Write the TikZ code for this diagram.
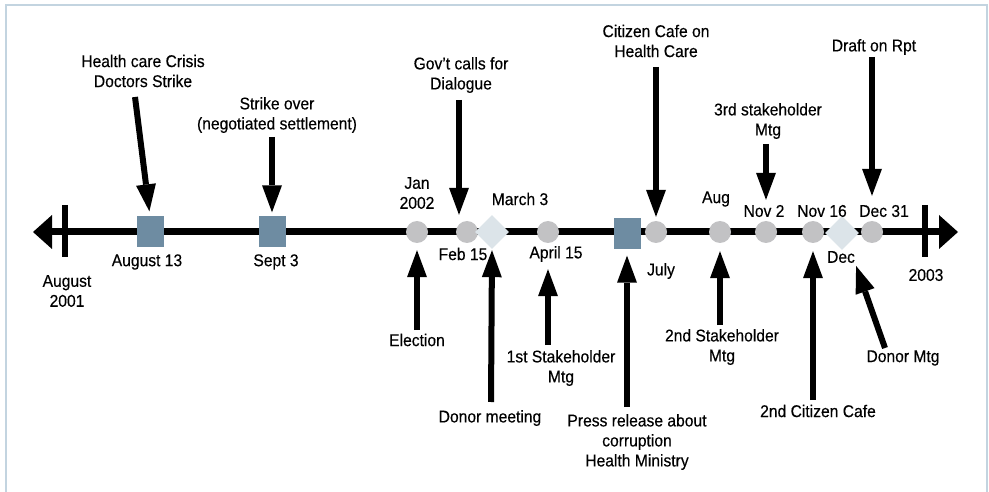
\documentclass[tikz,border=0pt]{standalone}
\usepackage{fontspec}
\setmainfont{Liberation Sans}[FakeStretch=0.92, FakeBold=0.3]
\usetikzlibrary{positioning, calc, arrows.meta, shapes.geometric}
\definecolor{evblue}{HTML}{6E8CA2}
\definecolor{mtggray}{HTML}{C2C2C4}
\definecolor{dmdgray}{HTML}{DCE4E9}
\definecolor{framecol}{HTML}{C3D4E0}

\begin{document}
\begin{tikzpicture}[x=1pt,y=-1pt,
    lbl/.style={font=\fontsize{17pt}{20pt}\selectfont, align=center, inner sep=0pt},
    evsq/.style={rectangle, fill=evblue, minimum width=27pt, minimum height=31pt, inner sep=0pt},
    mtg/.style={circle, fill=mtggray, minimum size=22pt, inner sep=0pt},
    dmd/.style={diamond, fill=dmdgray, minimum width=34pt, minimum height=34pt, inner sep=0pt},
    evarrow/.style={line width=6pt, -{Triangle[width=20pt,length=27pt,line width=0pt]}},
    yeartick/.style={line width=6pt}]
    \useasboundingbox (0,0) rectangle (989,492);
    \draw[framecol, line width=2.5pt] (6,492) -- (6,5) -- (987,5) -- (987,492);

    \coordinate (tlL) at (33,232);
    \coordinate (tlR) at (958,232);
    \draw[line width=7pt, {Triangle[width=34pt,length=19pt,line width=0pt]}-{Triangle[width=34pt,length=19pt,line width=0pt]}] (tlL) -- (tlR);
    \foreach \x in {65,925}
        \draw[yeartick] (\x,205) -- (\x,257);

    \node[evsq] (aug13) at (150,232) {};
    \node[evsq] (sept3) at (272,232) {};
    \node[evsq] (julysq) at (627,234) {};
    \foreach \n/\x in {jan/417, feb15/467, apr15/548, julyc/656, aug/720, nov2/766, nov16/813, dec31/872}
        \node[mtg] (\n) at (\x,232) {};
    \node[dmd] (mar3) at (492,232) {};
    \node[dmd] (dec) at (842,233) {};

    \node[lbl] (lblJan) at (417,193) {Jan\\2002};
    \node[lbl] (lblMar) at (520,199) {March 3};
    \node[lbl] (lblAug) at (716,199) {Aug};
    \node[lbl] (lblNov2) at (764,211) {Nov 2};
    \node[lbl] (lblNov16) at (822,211) {Nov 16};
    \node[lbl] (lblDec31) at (884,211) {Dec 31};
    \node[lbl] (lblAug13) at (147,262) {August 13};
    \node[lbl] (lblSept3) at (276,262) {Sept 3};
    \node[lbl] (lblAug01) at (67,291) {August\\2001};
    \node[lbl] (lblFeb15) at (463,254) {Feb 15};
    \node[lbl] (lblApr15) at (556,254) {April 15};
    \node[lbl] (lblJuly) at (661,271) {July};
    \node[lbl] (lblDec) at (841,257) {Dec};
    \node[lbl] (lbl2003) at (926,275) {2003};

    \node[lbl] (evCrisis) at (143,71) {Health care Crisis\\Doctors Strike};
    \node[lbl] (evStrike) at (277,115) {Strike over\\(negotiated settlement)};
    \node[lbl] (evGov) at (461,75) {Gov’t calls for\\Dialogue};
    \node[lbl] (evCafe) at (656,41) {Citizen Cafe on\\Health Care};
    \node[lbl] (ev3rd) at (768,121) {3rd stakeholder\\Mtg};
    \node[lbl] (evDraft) at (874,47) {Draft on Rpt};
    \node[lbl] (evElection) at (417,340) {Election};
    \node[lbl] (evDonor) at (490,418) {Donor meeting};
    \node[lbl] (ev1st) at (561,368) {1st Stakeholder\\Mtg};
    \node[lbl] (evPress) at (637,442) {Press release about\\corruption\\Health Ministry};
    \node[lbl] (ev2nd) at (722,347) {2nd Stakeholder\\Mtg};
    \node[lbl] (ev2ndCafe) at (818,411) {2nd Citizen Cafe};
    \node[lbl] (evDonorMtg) at (903,358) {Donor Mtg};

    \coordinate (tCrisis) at (135,97);
    \coordinate (tStrike) at (272,137);
    \coordinate (tGov) at (459,100);
    \coordinate (tCafe) at (656,67);
    \coordinate (t3rd) at (766,144);
    \coordinate (tDraft) at (872,57);
    \coordinate (tElection) at (417,330);
    \coordinate (tDonor) at (491,402);
    \coordinate (t1st) at (548,345);
    \coordinate (tPress) at (627,407);
    \coordinate (t2nd) at (720,325);
    \coordinate (t2ndCafe) at (813,400);
    \coordinate (tDonorMtg) at (885,348);

    \draw[evarrow, shorten >=5pt] (tCrisis) -- (aug13.north);
    \draw[evarrow, shorten >=4pt] (tStrike) -- (sept3.north);
    \draw[evarrow, shorten >=6pt] (tGov) -- (tGov |- feb15.north);
    \draw[evarrow, shorten >=4pt] (tCafe) -- (julyc.north);
    \draw[evarrow, shorten >=21pt] (t3rd) -- (nov2.north);
    \draw[evarrow, shorten >=25pt] (tDraft) -- (dec31.north);
    \draw[evarrow, shorten >=7pt] (tElection) -- (jan.south);
    \draw[evarrow, shorten >=1pt] (tDonor) -- (mar3.south);
    \draw[evarrow, shorten >=26pt] (t1st) -- (apr15.south);
    \draw[evarrow, shorten >=6pt] (tPress) -- (julysq.south);
    \draw[evarrow, shorten >=8pt] (t2nd) -- (aug.south);
    \draw[evarrow, shorten >=8pt] (t2ndCafe) -- (nov16.south);
    \draw[evarrow, shorten >=3pt] (tDonorMtg) -- (lblDec.south east);
\end{tikzpicture}
\end{document}
